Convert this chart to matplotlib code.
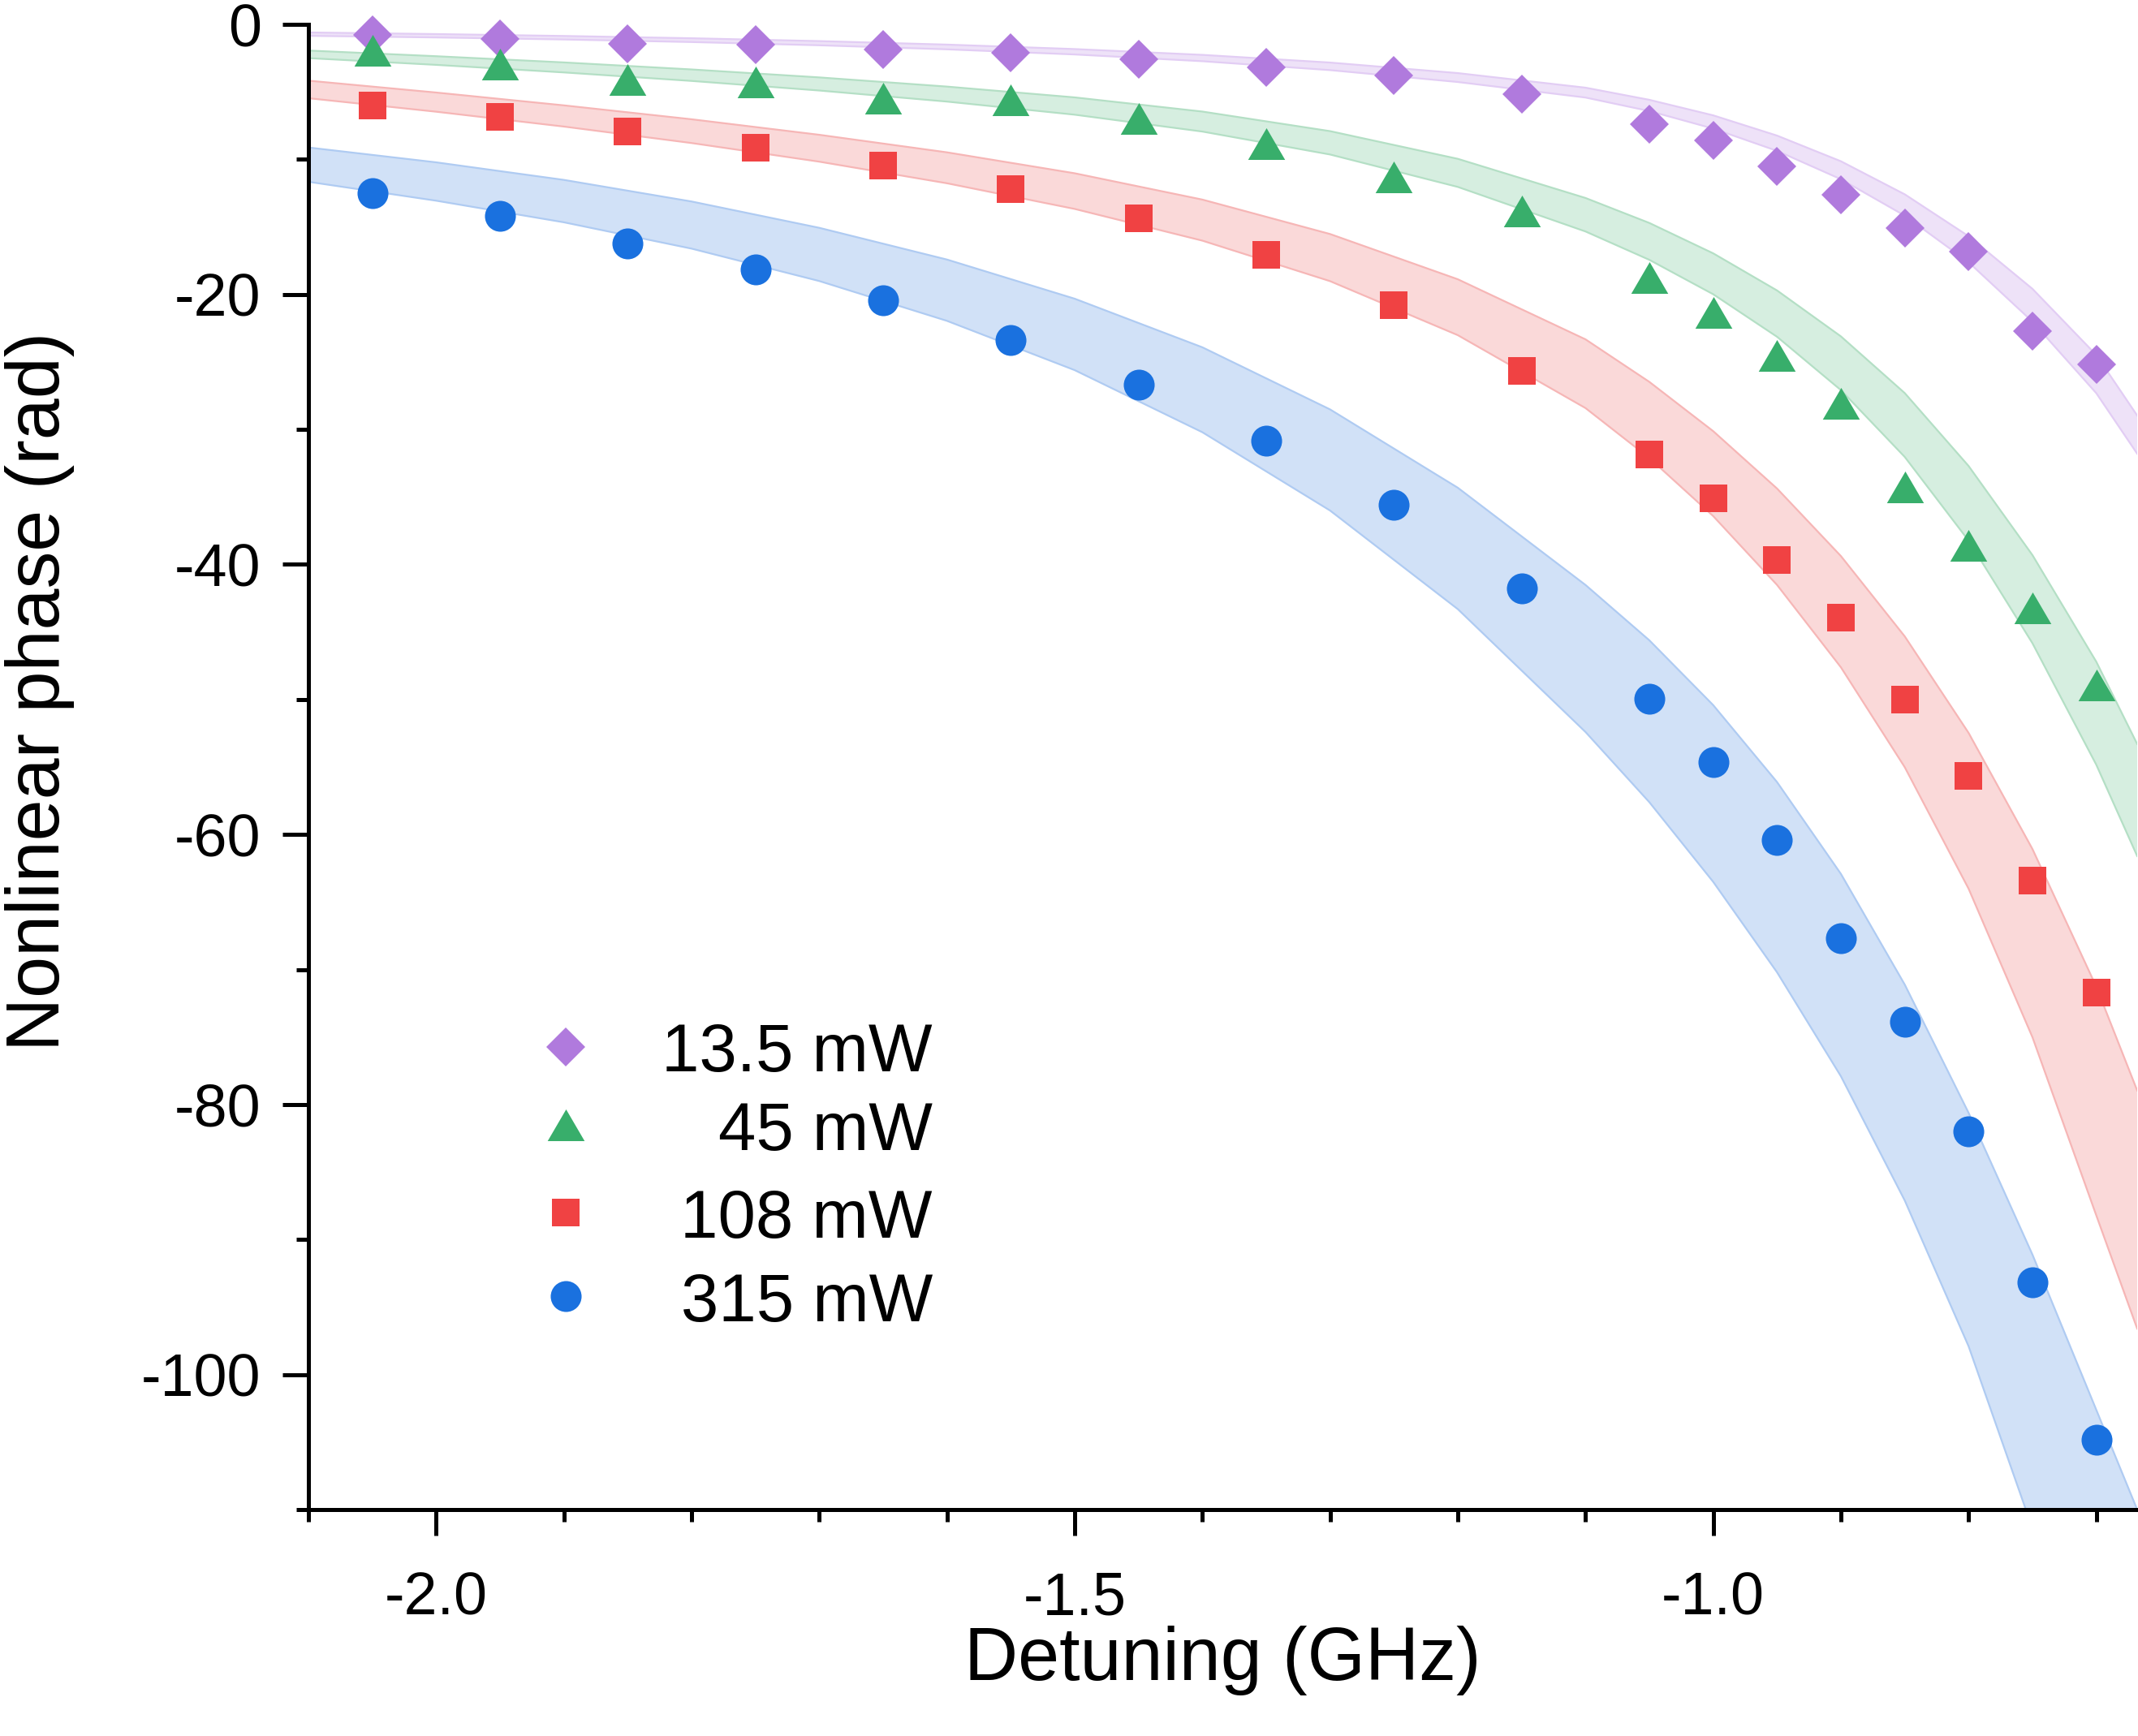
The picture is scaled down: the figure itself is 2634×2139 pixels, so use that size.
import numpy as np
import matplotlib
matplotlib.use("Agg")
import matplotlib.pyplot as plt
from matplotlib.path import Path

plt.rcParams['font.family'] = ['Liberation Sans', 'DejaVu Sans']
plt.rcParams['axes.unicode_minus'] = False

# ---------------- data ----------------
detuning = [-2.05, -1.95, -1.85, -1.75, -1.65, -1.55, -1.45, -1.35, -1.25, -1.15,
            -1.05, -1.0, -0.95, -0.9, -0.85, -0.8, -0.75, -0.7]

phase_13p5 = [-0.80, -1.10, -1.44, -1.50, -1.88, -2.09, -2.58, -3.17, -3.81, -5.15,
              -7.41, -8.62, -10.54, -12.62, -15.09, -16.83, -22.74, -25.19]
phase_45 = [-1.92, -2.95, -4.11, -4.25, -5.45, -5.59, -7.0, -8.84, -11.29, -13.83,
            -18.75, -21.31, -24.52, -28.05, -34.29, -38.58, -43.22, -48.92]
phase_108 = [-6.04, -6.83, -7.96, -9.14, -10.47, -12.2, -14.37, -17.1, -20.8, -25.64,
             -31.84, -35.1, -39.65, -43.96, -50.01, -55.64, -63.4, -71.71]
phase_315 = [-12.48, -14.2, -16.23, -18.15, -20.46, -23.38, -26.66, -30.86, -35.61, -41.78,
             -49.93, -54.63, -60.42, -67.69, -73.9, -82.0, -93.17, -104.86]

# theory bands (upper / lower edges)
band_x = [-2.1, -2.0, -1.9, -1.8, -1.7, -1.6, -1.5, -1.4, -1.3, -1.2,
          -1.1, -1.05, -1.0, -0.95, -0.9, -0.85, -0.8, -0.75, -0.7, -0.668]

band_13p5_hi = [-0.6, -0.72, -0.86, -1.03, -1.24, -1.5, -1.83, -2.26, -2.83, -3.61,
                -4.69, -5.59, -6.74, -8.24, -10.14, -12.59, -15.69, -19.59, -24.49, -28.97]
band_13p5_lo = [-0.85, -0.97, -1.12, -1.31, -1.55, -1.85, -2.23, -2.73, -3.39, -4.27,
                -5.42, -6.42, -7.72, -9.37, -11.47, -14.17, -17.62, -22.02, -27.32, -31.8]

band_45_hi = [-1.94, -2.36, -2.82, -3.34, -3.93, -4.61, -5.41, -6.46, -7.91, -9.96,
              -12.86, -14.71, -16.96, -19.71, -23.11, -27.31, -32.71, -39.31, -47.21, -53.3]
band_45_lo = [-2.5, -3.0, -3.56, -4.19, -4.9, -5.72, -6.69, -7.94, -9.64, -12.04,
              -15.34, -17.44, -19.99, -23.14, -27.09, -32.04, -38.24, -45.84, -54.84, -61.6]

band_108_hi = [-4.17, -5.05, -6.0, -7.03, -8.18, -9.48, -11.03, -12.98, -15.53, -18.88,
               -23.33, -26.48, -30.13, -34.38, -39.38, -45.33, -52.48, -61.08, -71.28, -78.96]
band_108_lo = [-5.47, -6.47, -7.57, -8.79, -10.17, -11.77, -13.67, -16.02, -19.02, -23.02,
               -28.42, -32.12, -36.42, -41.52, -47.62, -55.02, -64.02, -75.02, -88.22, -96.6]

band_315_hi = [-9.12, -10.22, -11.52, -13.12, -15.07, -17.42, -20.32, -23.92, -28.52, -34.32,
               -41.52, -45.62, -50.42, -56.12, -62.92, -71.12, -80.62, -91.12, -102.62, -110.0]
band_315_lo = [-11.66, -13.06, -14.66, -16.61, -19.01, -21.96, -25.61, -30.21, -36.01, -43.31,
               -52.41, -57.61, -63.51, -70.21, -77.91, -87.11, -97.91, -111.4, -126.4, -136.0]

labels = ['13.5 mW', '45 mW', '108 mW', '315 mW']

# ---------------- styles ----------------
tri = Path([(0, 0.857), (-1, -0.857), (1, -0.857), (0, 0.857)],
           [Path.MOVETO, Path.LINETO, Path.LINETO, Path.CLOSEPOLY])

series = [
    (phase_13p5, band_13p5_hi, band_13p5_lo, '#B07ADD', '#EEE2F8', '#E2CDF4', 'D', 24.4),
    (phase_45, band_45_hi, band_45_lo, '#38AE6B', '#D6EEE0', '#B4DFC5', tri, 32.8),
    (phase_108, band_108_hi, band_108_lo, '#F04243', '#FAD9D9', '#F6B6B6', 's', 24.5),
    (phase_315, band_315_hi, band_315_lo, '#1A71DF', '#D1E1F7', '#AFCBF2', 'o', 27.4),
]

fig = plt.figure(figsize=(26.34, 21.39), dpi=100)
ax = fig.add_axes([380 / 2634, 1 - 1860 / 2139, (2633 - 380) / 2634, (1860 - 30) / 2139])

for y, hi, lo, col, fill, edge, mk, ms in series:
    ax.fill_between(band_x, hi, lo, facecolor=fill, edgecolor='none', zorder=1)
    ax.plot(band_x, hi, color=edge, lw=1.6, zorder=1.5)
    ax.plot(band_x, lo, color=edge, lw=1.6, zorder=1.5)

for y, hi, lo, col, fill, edge, mk, ms in series:
    ax.plot(detuning, y, linestyle='none', marker=mk, markersize=ms,
            markerfacecolor=col, markeredgewidth=0, zorder=3, clip_on=False)

# manual legend (right-aligned labels)
leg_y = [0.3115, 0.259, 0.200, 0.1437]
for (y, hi, lo, col, fill, edge, mk, ms), ly, lab in zip(series, leg_y, labels):
    ax.plot([0.1407], [ly], transform=ax.transAxes, linestyle='none', marker=mk,
            markersize=ms, markerfacecolor=col, markeredgewidth=0, zorder=4)
    ax.text(0.3413, ly, lab, transform=ax.transAxes, ha='right', va='center_baseline',
            fontsize=60, zorder=4)

ax.set_xlim(-2.1, -0.668)
ax.set_ylim(-110, 0)

ax.spines['top'].set_visible(False)
ax.spines['right'].set_visible(False)
for s in ['left', 'bottom']:
    ax.spines[s].set_linewidth(3.6)

ax.set_xticks([-2.0, -1.5, -1.0])
ax.set_xticklabels(['-2.0', '-1.5', '-1.0'])
ax.set_xticks(np.arange(-2.1, -0.65, 0.1), minor=True)
ax.set_yticks([0, -20, -40, -60, -80, -100])
ax.set_yticklabels(['0', '-20', '-40', '-60', '-80', '-100'])
ax.set_yticks([-10, -30, -50, -70, -90, -110], minor=True)

ax.tick_params(which='major', direction='out', length=23, width=3.6, labelsize=53)
ax.tick_params(which='minor', direction='out', length=11, width=3.6)
ax.tick_params(axis='x', which='major', pad=31)
ax.tick_params(axis='y', which='major', pad=19)

ax.set_xlabel('Detuning (GHz)', fontsize=66)
ax.set_ylabel('Nonlinear phase (rad)', fontsize=66)
ax.xaxis.set_label_coords(0.5, -0.1016)
ax.xaxis.label.set_va('center')
ax.yaxis.set_label_coords(-0.147, 0.551)
ax.yaxis.label.set_va('center')

fig.savefig('out.png', dpi=100)
